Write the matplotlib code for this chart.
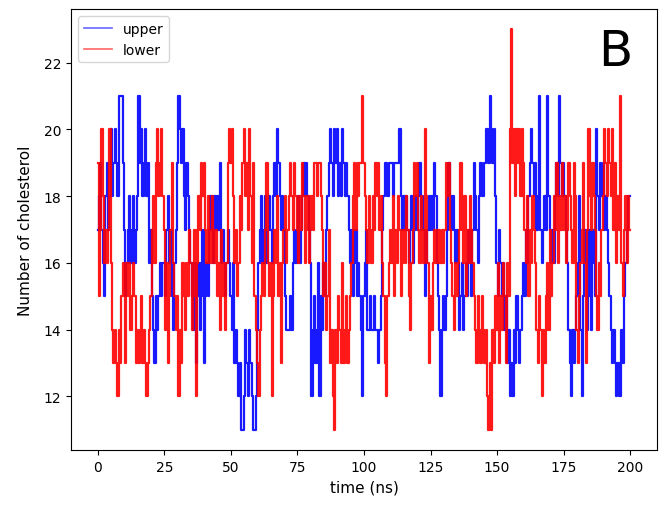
import numpy as np
import matplotlib
matplotlib.use("Agg")
import matplotlib.pyplot as plt

upper = [
    17,18,19,17,16,15,18,19,17,18,
    20,18,19,20,19,18,21,21,21,19,
    17,15,16,17,18,16,17,18,16,17,
    18,21,19,20,18,19,20,18,19,16,
    17,15,14,13,15,14,15,16,15,16,
    16,15,17,18,16,17,15,14,16,17,
    19,21,20,19,20,18,17,19,18,17,
    16,15,14,16,13,15,16,14,15,17,
    13,15,16,15,17,18,17,16,18,17,
    18,17,19,16,17,16,15,16,17,16,
    15,14,16,13,14,13,12,13,11,11,
    12,14,13,12,14,13,12,11,11,12,
    14,16,17,18,16,17,18,16,17,18,
    17,16,18,19,18,20,19,18,17,18,
    17,15,14,14,14,15,14,16,17,16,
    17,18,16,17,18,19,18,19,18,17,
    16,12,14,15,13,14,16,12,15,14,
    16,15,17,18,19,20,19,18,20,19,
    20,18,19,18,20,19,18,19,18,17,
    16,17,15,16,17,15,16,15,14,12,
    15,16,17,14,14,15,14,14,15,14,
    14,13,14,15,17,18,19,19,18,19,
    19,19,18,19,19,19,19,20,18,17,
    18,17,18,17,16,17,18,16,17,18,
    17,18,19,17,18,17,15,16,17,18,
    17,18,17,19,18,16,15,14,12,14,
    15,14,15,17,19,18,17,18,17,16,
    17,16,14,15,16,14,15,16,15,17,
    16,15,17,19,18,17,16,18,19,18,
    18,19,20,20,19,21,20,19,20,18,
    16,15,17,16,15,16,14,15,13,14,
    12,13,12,14,13,15,14,13,14,15,
    16,15,17,16,18,19,20,19,18,19,
    17,18,21,17,16,17,18,17,21,18,
    17,16,17,16,18,19,18,21,19,18,
    19,18,17,16,14,13,12,14,13,14,
    15,16,18,14,12,15,17,16,14,17,
    15,14,17,16,15,20,18,17,19,18,
    19,17,18,17,16,15,14,13,14,13,
    12,13,12,12,14,13,15,16,17,18,
    18,
]

lower = [
    19,15,17,20,18,16,17,16,17,20,
    16,14,13,14,13,12,14,13,15,16,
    15,13,16,15,16,14,15,16,15,13,
    14,13,14,15,13,14,13,12,13,14,
    15,17,18,16,19,20,18,19,20,18,
    17,14,16,13,15,17,19,16,15,14,
    15,12,14,13,16,15,14,16,15,17,
    16,14,15,17,12,16,18,17,19,18,
    19,17,16,18,17,16,18,17,16,17,
    15,16,14,17,15,16,14,16,19,20,
    19,20,18,16,17,15,16,18,17,19,
    20,18,19,17,20,18,16,19,15,14,
    13,12,14,15,16,15,17,19,16,15,
    16,12,15,17,16,18,15,16,13,16,
    17,18,16,17,18,19,18,17,19,18,
    17,16,18,17,19,18,16,17,18,16,
    17,18,17,19,19,18,19,19,18,17,
    15,16,14,15,17,13,14,12,11,14,
    13,15,14,13,16,13,14,15,13,14,
    15,16,18,19,17,19,18,19,19,21,
    19,18,17,16,18,17,16,18,17,19,
    18,19,17,18,16,15,13,12,15,16,
    17,16,18,15,17,16,18,17,15,16,
    17,16,18,17,15,14,16,17,19,18,
    19,17,16,18,17,16,20,18,16,13,
    15,14,16,17,16,17,16,17,16,17,
    16,17,19,18,19,17,16,15,14,16,
    15,16,17,19,17,16,18,15,17,16,
    18,17,16,15,14,13,15,14,13,15,
    14,13,14,12,11,13,11,14,13,15,
    14,16,13,15,14,16,15,13,16,15,
    20,23,19,20,18,20,19,20,18,20,
    19,17,16,18,15,17,16,18,17,16,
    14,13,15,14,12,14,13,15,16,14,
    17,15,16,18,17,19,16,18,17,19,
    17,18,16,17,19,18,17,16,19,18,
    14,13,15,16,17,19,16,13,17,20,
    18,17,19,18,17,15,14,16,15,17,
    18,20,19,18,20,19,18,20,17,19,
    16,18,17,21,16,15,17,18,16,18,
    17,
]

time = np.linspace(0, 200, len(upper))

fig = plt.figure(figsize=(6.6, 5.1), dpi=100)
ax = fig.add_axes([0.108, 0.116, 0.887, 0.864])
ax.plot(time, upper, color='blue', lw=1.6, alpha=0.9, drawstyle='steps-mid', label='upper')
ax.plot(time, lower, color='red', lw=1.6, alpha=0.9, drawstyle='steps-mid', label='lower')
ax.set_xticks([0, 25, 50, 75, 100, 125, 150, 175, 200])
ax.set_yticks([12, 14, 16, 18, 20, 22])
ax.set_xlabel("time (ns)", fontsize=11)
ax.set_ylabel("Number of cholesterol", fontsize=11, labelpad=8)
leg = ax.legend(loc='upper left')
for line in leg.get_lines():
    line.set_alpha(0.6)
    line.set_linewidth(1.2)
ax.text(0.9, 0.905, "B", transform=ax.transAxes, fontsize=36, va='center', ha='left')
fig.savefig("out.png", dpi=100)
